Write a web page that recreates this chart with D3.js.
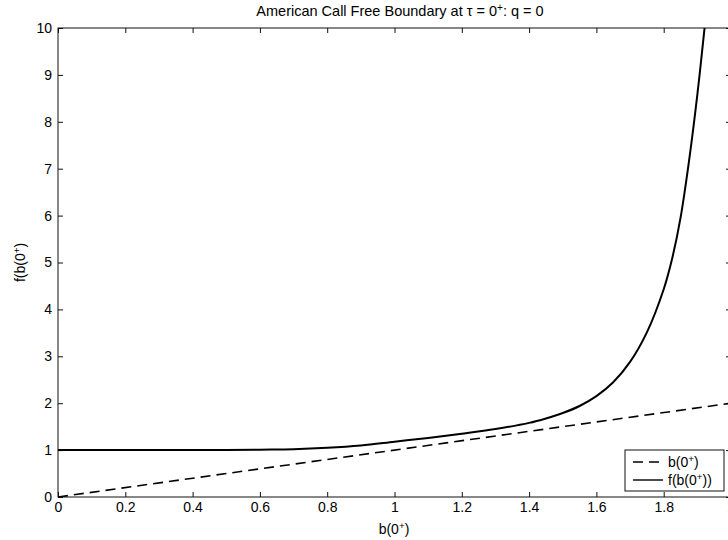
<!DOCTYPE html>
<html>
<head>
<meta charset="utf-8">
<script src="https://cdn.jsdelivr.net/npm/d3@7"></script>
<style>
  body { margin: 0; background: #fff; }
  svg { display: block; font-family: "Liberation Sans", Arial, sans-serif; }
</style>
</head>
<body>
<div id="chart-area"></div>
<script>
/* American call free boundary at tau = 0+ */

// values
var bValues = [0, 0.1, 0.2, 0.3, 0.4, 0.5, 0.6, 0.7, 0.8, 0.9, 1.0, 1.1, 1.2, 1.3, 1.4, 1.45,
    1.5, 1.55, 1.6, 1.65, 1.7, 1.75, 1.8, 1.825, 1.85, 1.875, 1.9, 1.92, 1.925];
var fValues = [1.0, 1.0, 1.0, 1.0, 1.0, 1.0, 1.01, 1.02, 1.05, 1.1, 1.18, 1.26, 1.35, 1.45, 1.58, 1.675,
    1.79, 1.94, 2.15, 2.445, 2.88, 3.51, 4.43, 5.08, 5.95, 7.15, 8.58, 9.9, 10.25];
var lineX = [0, 2];
var xTicks = [0, 0.2, 0.4, 0.6, 0.8, 1, 1.2, 1.4, 1.6, 1.8, 2];
var yTicks = [0, 1, 2, 3, 4, 5, 6, 7, 8, 9, 10];
var legendLabels = ["b(0", "f(b(0"];

var width = 728, height = 540;
var margin = { left: 58, right: -3, top: 28, bottom: 43 };

var svg = d3.select("#chart-area")
    .append("svg")
    .attr("width", width)
    .attr("height", height);

var x = d3.scaleLinear()
    .domain([0, 2])
    .range([margin.left, width - margin.right]);

var y = d3.scaleLinear()
    .domain([0, 10])
    .range([height - margin.bottom, margin.top]);

var ink = "#111";

// axes with inward ticks
var fmt = function(d) { return String(d); };

svg.append("g")
    .attr("transform", "translate(0," + y(0) + ")")
    .call(d3.axisBottom(x).tickValues(xTicks).tickSize(-5).tickPadding(5).tickFormat(fmt))
    .call(function(g) { g.select(".domain").remove(); });

svg.append("g")
    .attr("transform", "translate(0," + y(10) + ")")
    .call(d3.axisTop(x).tickValues(xTicks).tickSize(-5).tickFormat(""))
    .call(function(g) { g.select(".domain").remove(); });

svg.append("g")
    .attr("transform", "translate(" + x(0) + ",0)")
    .call(d3.axisLeft(y).tickValues(yTicks).tickSize(-5).tickPadding(6).tickFormat(fmt))
    .call(function(g) { g.select(".domain").remove(); });

svg.append("g")
    .attr("transform", "translate(" + x(2) + ",0)")
    .call(d3.axisRight(y).tickValues(yTicks).tickSize(-5).tickFormat(""))
    .call(function(g) { g.select(".domain").remove(); });

svg.selectAll(".tick line").attr("stroke", ink);
svg.selectAll(".tick text")
    .attr("fill", "#000")
    .attr("font-size", 14)
    .attr("font-family", "'Liberation Sans', Arial, sans-serif");

// plot box
svg.append("rect")
    .attr("x", x(0))
    .attr("y", y(10))
    .attr("width", x(2) - x(0))
    .attr("height", y(0) - y(10))
    .attr("fill", "none")
    .attr("stroke", ink)
    .attr("stroke-width", 1);

// curves
svg.append("defs").append("clipPath")
    .attr("id", "clip")
    .append("rect")
    .attr("x", x(0)).attr("y", y(10))
    .attr("width", x(2) - x(0)).attr("height", y(0) - y(10));

var line = d3.line()
    .x(function(d) { return x(d[0]); })
    .y(function(d) { return y(d[1]); });

svg.append("path")
    .datum(lineX.map(function(d) { return [d, d]; }))
    .attr("clip-path", "url(#clip)")
    .attr("d", line)
    .attr("fill", "none")
    .attr("stroke", "#000")
    .attr("stroke-width", 1.6)
    .attr("stroke-dasharray", "10,6");

svg.append("path")
    .datum(bValues.map(function(d, i) { return [d, fValues[i]]; }))
    .attr("clip-path", "url(#clip)")
    .attr("d", line.curve(d3.curveCatmullRom.alpha(0.5)))
    .attr("fill", "none")
    .attr("stroke", "#000")
    .attr("stroke-width", 2);

// label with a superscript +
function supText(sel, parts) {
    parts.forEach(function(p) {
        var t = sel.append("tspan").text(p[0]);
        if (p[1]) {
            t.attr("baseline-shift", "super").attr("font-size", "70%");
        }
    });
}

var title = svg.append("text")
    .attr("x", 400)
    .attr("y", 16)
    .attr("text-anchor", "middle")
    .attr("font-size", 14.5);
supText(title, [["American Call Free Boundary at \u03c4 = 0"], ["+", true], [": q = 0"]]);

var xLabel = svg.append("text")
    .attr("x", 394)
    .attr("y", 534)
    .attr("text-anchor", "middle")
    .attr("font-size", 14);
supText(xLabel, [["b(0"], ["+", true], [")"]]);

var yLabel = svg.append("text")
    .attr("transform", "translate(25," + (y(5)) + ") rotate(-90)")
    .attr("text-anchor", "middle")
    .attr("font-size", 14);
supText(yLabel, [["f(b(0"], ["+", true], [")"]]);

// legend
var legend = svg.append("g").attr("transform", "translate(625,450)");
legend.append("rect")
    .attr("width", 99)
    .attr("height", 41)
    .attr("fill", "#fff")
    .attr("stroke", ink);

var entries = legend.selectAll(".entry")
    .data(legendLabels)
    .enter()
    .append("g")
    .attr("transform", function(d, i) { return "translate(0," + (12 + i * 18) + ")"; });

entries.append("line")
    .attr("x1", 8).attr("x2", 38)
    .attr("stroke", "#000")
    .attr("stroke-width", function(d, i) { return i == 0 ? 1.6 : 1.4; })
    .attr("stroke-dasharray", function(d, i) { return i == 0 ? "10,6" : null; });

entries.each(function(d, i) {
    var t = d3.select(this).append("text")
        .attr("x", 43)
        .attr("y", 5)
        .attr("font-size", 14);
    supText(t, [[d], ["+", true], [i == 0 ? ")" : "))"]]);
});
</script>
</body>
</html>
